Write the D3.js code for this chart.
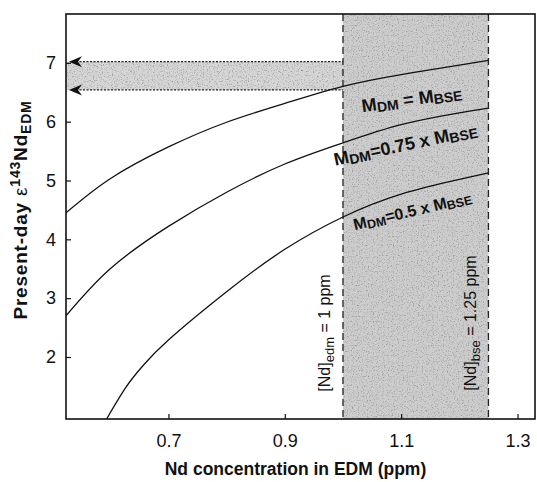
<!DOCTYPE html>
<html>
<head>
<meta charset="utf-8">
<script src="https://cdn.jsdelivr.net/npm/d3@7"></script>
<style>
  body { margin: 0; background: #fff; }
  text { font-family: "Liberation Sans", Arial, Helvetica, sans-serif; }
</style>
</head>
<body>
<div id="chart"></div>
<script>
// data
const conc = [0.524, 0.6, 0.7, 0.8, 0.9, 1.0, 1.1, 1.2, 1.25];
const epsFull = [4.45, 5.03, 5.57, 5.99, 6.31, 6.6, 6.8, 6.96, 7.04];   // M_DM = M_BSE
const eps075 = [2.7, 3.5, 4.22, 4.8, 5.28, 5.64, 5.95, 6.15, 6.23];    // M_DM = 0.75 x M_BSE
const concLow = [0.594, 0.628, 0.657, 0.7, 0.8, 0.9, 1.0, 1.1, 1.2, 1.25];
const eps05 = [0.95, 1.5, 1.86, 2.29, 3.11, 3.83, 4.38, 4.77, 5.02, 5.13]; // M_DM = 0.5 x M_BSE
const ndLimits = [1.0, 1.25];       // [Nd]edm and [Nd]bse
const epsRange = [6.54, 7.02];      // arrows on the y axis
const xTicks = [0.7, 0.9, 1.1, 1.3];
const yTicks = [2, 3, 4, 5, 6, 7];

// set the dimensions and margins of the graph
const margin = { top: 14, right: 2, bottom: 63, left: 66 },
  width = 537 - margin.left - margin.right,
  height = 482 - margin.top - margin.bottom;

const svg = d3
  .select("#chart")
  .append("svg")
  .attr("width", width + margin.left + margin.right)
  .attr("height", height + margin.top + margin.bottom)
  .append("g")
  .attr("transform", `translate(${margin.left}, ${margin.top})`);

const x = d3.scaleLinear().domain([0.524, 1.33]).range([0, width]);
const y = d3.scaleLinear().domain([0.946, 7.83]).range([height, 0]);

// grainy grey like the printed screen
const defs = svg.append("defs");
const filt = defs.append("filter").attr("id", "grain")
  .attr("x", 0).attr("y", 0).attr("width", "100%").attr("height", "100%");
filt.append("feTurbulence").attr("type", "fractalNoise")
  .attr("baseFrequency", 0.8).attr("numOctaves", 2).attr("seed", 4).attr("result", "n");
filt.append("feColorMatrix").attr("in", "n").attr("type", "matrix")
  .attr("values", "0 0 0 0 0.3  0 0 0 0 0.3  0 0 0 0 0.3  -2.8 0 0 0 1.4").attr("result", "dots");
filt.append("feComposite").attr("in", "dots").attr("in2", "SourceGraphic")
  .attr("operator", "in").attr("result", "d2");
const merge = filt.append("feMerge");
merge.append("feMergeNode").attr("in", "SourceGraphic");
merge.append("feMergeNode").attr("in", "d2");

defs.append("clipPath").attr("id", "plot")
  .append("rect").attr("width", width).attr("height", height);

// shaded bands
svg.append("rect")
  .attr("x", x(ndLimits[0])).attr("y", 0)
  .attr("width", x(ndLimits[1]) - x(ndLimits[0])).attr("height", height)
  .attr("fill", "#cdcdcd").attr("filter", "url(#grain)");
svg.append("rect")
  .attr("x", 0).attr("y", y(epsRange[1]))
  .attr("width", x(ndLimits[0])).attr("height", y(epsRange[0]) - y(epsRange[1]))
  .attr("fill", "#d6d6d6").attr("filter", "url(#grain)");

// dashed verticals
svg.selectAll(".vline")
  .data(ndLimits)
  .join("line")
  .attr("x1", (d) => x(d)).attr("x2", (d) => x(d))
  .attr("y1", 0).attr("y2", height)
  .attr("stroke", "#222").attr("stroke-width", 1.3)
  .attr("stroke-dasharray", "7,4");

// dotted horizontals with arrow heads
svg.selectAll(".hline")
  .data(epsRange)
  .join("line")
  .attr("x1", 10).attr("x2", x(ndLimits[0]))
  .attr("y1", (d) => y(d)).attr("y2", (d) => y(d))
  .attr("stroke", "#222").attr("stroke-width", 1.2)
  .attr("stroke-dasharray", "2,1.5");
svg.selectAll(".arrow")
  .data(epsRange)
  .join("path")
  .attr("d", (d) => {
    const yy = y(d);
    return `M3,${yy} L16,${yy - 5.5} L12,${yy} L16,${yy + 5.5} Z`;
  })
  .attr("fill", "#111");

// curves
const line = d3.line().curve(d3.curveNatural);
const curves = [
  conc.map((c, i) => [x(c), y(epsFull[i])]),
  conc.map((c, i) => [x(c), y(eps075[i])]),
  concLow.map((c, i) => [x(c), y(eps05[i])])
];
svg.append("g").attr("clip-path", "url(#plot)")
  .selectAll("path")
  .data(curves)
  .join("path")
  .attr("d", line)
  .attr("fill", "none")
  .attr("stroke", "#111")
  .attr("stroke-width", 1.3);

// curve labels
function mLabel(cx, cy, angle, size, parts) {
  const t = svg.append("text")
    .attr("transform", `translate(${cx},${cy}) rotate(${angle})`)
    .attr("text-anchor", "middle")
    .attr("font-weight", "bold")
    .attr("font-size", size + "px")
    .attr("fill", "#111");
  parts.forEach((p) => {
    const s = t.append("tspan").text(p[0]);
    if (p[1]) s.attr("font-size", size * 0.78 + "px").attr("dy", 2);
    else s.attr("dy", p[2] || 0);
  });
}
mLabel(x(1.125) - 3, y(6.84) + 33, -8, 18, [["M"], ["DM", 1], [" = ", 0, -2], ["M"], ["BSE", 1]]);
mLabel(x(1.115) - 3, y(5.97) + 27, -12, 18, [["M"], ["DM", 1], ["=0.75 x ", 0, -2], ["M"], ["BSE", 1]]);
mLabel(x(1.125) - 2, y(4.82) + 25, -13.5, 16, [["M"], ["DM", 1], ["=0.5 x ", 0, -2], ["M"], ["BSE", 1]]);

// vertical labels
function ndLabel(bx, cy, sub, rest) {
  const t = svg.append("text")
    .attr("transform", `translate(${bx},${cy}) rotate(-90)`)
    .attr("text-anchor", "middle")
    .attr("font-size", "16px")
    .attr("fill", "#111");
  t.append("tspan").text("[Nd]");
  t.append("tspan").text(sub).attr("font-size", "13px").attr("dy", 4);
  t.append("tspan").text(rest).attr("dy", -4);
}
ndLabel(x(ndLimits[0]) - 13, 333 - margin.top, "edm", " = 1 ppm");
ndLabel(x(ndLimits[1]) - 12, 323 - margin.top, "bse", " = 1.25 ppm");

// axes
const xAxis = svg.append("g")
  .attr("transform", `translate(0, ${height})`)
  .call(d3.axisBottom(x).tickValues(xTicks).tickSize(-5).tickPadding(15).tickFormat(d3.format(".1f")));
const yAxis = svg.append("g")
  .call(d3.axisLeft(y).tickValues(yTicks).tickSize(-5).tickPadding(10).tickFormat(d3.format("d")));
[xAxis, yAxis].forEach((a) => {
  a.select(".domain").remove();
  a.selectAll("line").attr("stroke", "#111").attr("stroke-width", 1.2);
  a.selectAll("text").attr("font-size", "18px").attr("fill", "#111")
    .attr("font-family", "'Liberation Sans', Arial, sans-serif");
});

// frame
svg.append("rect")
  .attr("width", width).attr("height", height)
  .attr("fill", "none").attr("stroke", "#111").attr("stroke-width", 1.6);

// axis titles
svg.append("text")
  .attr("x", width / 2 - 5)
  .attr("y", height + 56)
  .attr("text-anchor", "middle")
  .attr("font-size", "17.5px")
  .attr("font-weight", "bold")
  .attr("fill", "#111")
  .text("Nd concentration in EDM (ppm)");

const yt = svg.append("text")
  .attr("transform", `translate(${27 - margin.left}, ${210 - margin.top}) rotate(-90)`)
  .attr("text-anchor", "middle")
  .attr("font-size", "19px")
  .attr("font-weight", "bold")
  .attr("letter-spacing", "0.8px")
  .attr("fill", "#111");
yt.append("tspan").text("Present-day ");
yt.append("tspan").text("ε").attr("font-weight", "normal");
yt.append("tspan").text("143").attr("font-size", "14px").attr("dy", -7);
yt.append("tspan").text("Nd").attr("dy", 7);
yt.append("tspan").text("EDM").attr("font-size", "14px").attr("dy", 4);
</script>
</body>
</html>
